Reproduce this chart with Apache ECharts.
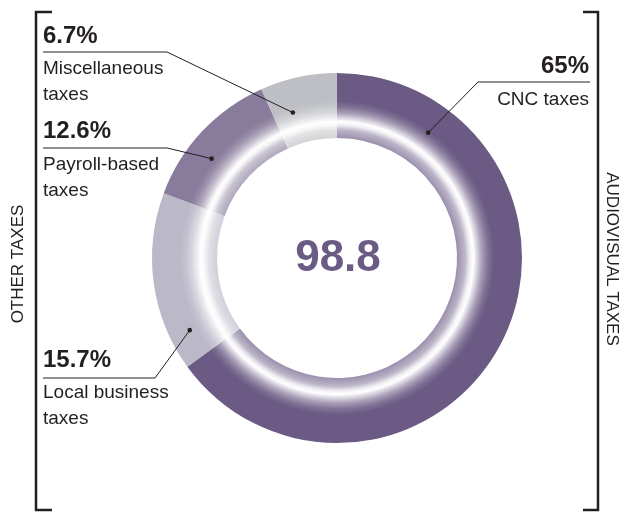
<!DOCTYPE html>
<html>
<head>
<meta charset="utf-8">
<script src="https://cdn.jsdelivr.net/npm/echarts@6/dist/echarts.min.js"></script>
<style>
  html, body { margin: 0; padding: 0; background: #ffffff; }
  #chart { width: 624px; height: 512px; }
</style>
</head>
<body>
<div id="chart"></div>
<script>
// Tax revenue breakdown (share of total, %)
const categories = ['CNC taxes', 'Local business\ntaxes', 'Payroll-based\ntaxes', 'Miscellaneous\ntaxes'];
const shares = [65, 15.7, 12.6, 6.7];
const totalValue = 98.8;
const groupTitles = ['OTHER TAXES', 'AUDIOVISUAL TAXES'];

// Styling
const sliceColors = ['#6a5a84', '#bbb8c8', '#887b9b', '#bebfc4'];
const INK = '#231f20';
const FONT = '"Liberation Sans", Arial, sans-serif';
const CX = 337, CY = 258, R0 = 120, R1 = 185;

// Callout placement per slice (label block, leader elbow, anchor inside the slice)
const callouts = [
  { align: 'right', x: 589, pctY: 66, nameY: 100, lineY: 82, elbowX: 478, frac: 0.154, r: 155 },
  { align: 'left',  x: 43,  pctY: 360, nameY: 393, lineY: 378, elbowX: 155, frac: 0.175, r: 164 },
  { align: 'left',  x: 43,  pctY: 131, nameY: 165, lineY: 148, elbowX: 167, frac: 0.394, r: 160 },
  { align: 'left',  x: 43,  pctY: 36,  nameY: 69,  lineY: 52,  elbowX: 167, frac: 0.30,  r: 152 }
];

// White inner glow of the ring: [radius, amount of white]
const glow = [[R0, 0.33], [128, 0.55], [133, 0.9], [136.5, 1], [139, 0.82], [145, 0.42], [151, 0.15], [157, 0], [R1, 0]];

function mixWhite(hex, t) {
  const n = parseInt(hex.slice(1), 16);
  const ch = [(n >> 16) & 255, (n >> 8) & 255, n & 255].map(c => Math.round(c + (255 - c) * t));
  return 'rgb(' + ch.join(',') + ')';
}
function ringFill(hex) {
  return {
    type: 'radial', x: CX, y: CY, r: R1, global: true,
    colorStops: glow.map(([rr, t]) => ({ offset: rr / R1, color: mixWhite(hex, t) }))
  };
}

const chart = echarts.init(document.getElementById('chart'), null, { renderer: 'canvas' });

chart.setOption({
  animation: false,
  backgroundColor: '#ffffff',
  series: [{
    type: 'pie',
    center: [CX, CY],
    radius: [R0, R1],
    startAngle: 90,
    clockwise: true,
    silent: true,
    z: 2,
    label: { show: false },
    labelLine: { show: false },
    emphasis: { disabled: true },
    itemStyle: { borderWidth: 0 },
    data: shares.map((v, i) => ({ name: categories[i], value: v, itemStyle: { color: ringFill(sliceColors[i]) } }))
  }]
});

// Sector geometry as laid out by the pie series
let layouts = null;
try {
  const data = chart.getModel().getSeriesByIndex(0).getData();
  layouts = shares.map((_, i) => data.getItemLayout(i));
} catch (e) { layouts = null; }
if (!layouts || !layouts[0]) {
  const sum = shares.reduce((a, b) => a + b, 0);
  let a0 = -Math.PI / 2;
  layouts = shares.map(v => {
    const a1 = a0 + v / sum * Math.PI * 2;
    const l = { cx: CX, cy: CY, startAngle: a0, endAngle: a1 };
    a0 = a1;
    return l;
  });
}

const elements = [];
const TOP = 100;

// Group brackets
elements.push({ type: 'polyline', z: TOP, shape: { points: [[52, 12], [36, 12], [36, 510], [52, 510]] }, style: { stroke: INK, lineWidth: 2.5, fill: null } });
elements.push({ type: 'polyline', z: TOP, shape: { points: [[583, 12], [598, 12], [598, 510], [583, 510]] }, style: { stroke: INK, lineWidth: 2.5, fill: null } });
elements.push({ type: 'text', z: TOP, x: 18.5, y: 264, rotation: Math.PI / 2,
  style: { text: groupTitles[0], font: '17px ' + FONT, fill: INK, align: 'center', verticalAlign: 'middle', textAlign: 'center', textVerticalAlign: 'middle' } });
elements.push({ type: 'text', z: TOP, x: 611.5, y: 259, rotation: -Math.PI / 2,
  style: { text: groupTitles[1], font: '17px ' + FONT, fill: INK, align: 'center', verticalAlign: 'middle', textAlign: 'center', textVerticalAlign: 'middle' } });

// Total in the middle of the ring
elements.push({ type: 'text', z: TOP, x: CX + 1, y: CY + 1,
  style: { text: String(totalValue), font: 'bold 44px "Liberation Sans Narrow", ' + FONT, fill: sliceColors[0], align: 'center', verticalAlign: 'middle', textAlign: 'center', textVerticalAlign: 'middle' } });

// Callouts: percentage, leader line with anchor dot, category name
shares.forEach((v, i) => {
  const c = callouts[i];
  const l = layouts[i];
  const ang = l.startAngle + c.frac * (l.endAngle - l.startAngle);
  const dx = l.cx + c.r * Math.cos(ang);
  const dy = l.cy + c.r * Math.sin(ang);
  const lineEnd = c.align === 'left' ? c.x : c.x + 1;
  elements.push({ type: 'polyline', z: TOP, shape: { points: [[lineEnd, c.lineY], [c.elbowX, c.lineY], [dx, dy]] }, style: { stroke: INK, lineWidth: 1, fill: null } });
  elements.push({ type: 'circle', z: TOP, shape: { cx: dx, cy: dy, r: 2.3 }, style: { fill: INK } });
  elements.push({ type: 'text', z: TOP, x: c.x, y: c.pctY,
    style: { text: v + '%', font: 'bold 24px ' + FONT, fill: INK, align: c.align, verticalAlign: 'middle', textAlign: c.align, textVerticalAlign: 'middle' } });
  elements.push({ type: 'text', z: TOP, x: c.x, y: c.nameY - 13,
    style: { text: categories[i], font: '19px ' + FONT, lineHeight: 26, fill: INK, align: c.align, verticalAlign: 'top', textAlign: c.align, textVerticalAlign: 'top' } });
});

chart.setOption({ graphic: { elements: elements } });
</script>
</body>
</html>
